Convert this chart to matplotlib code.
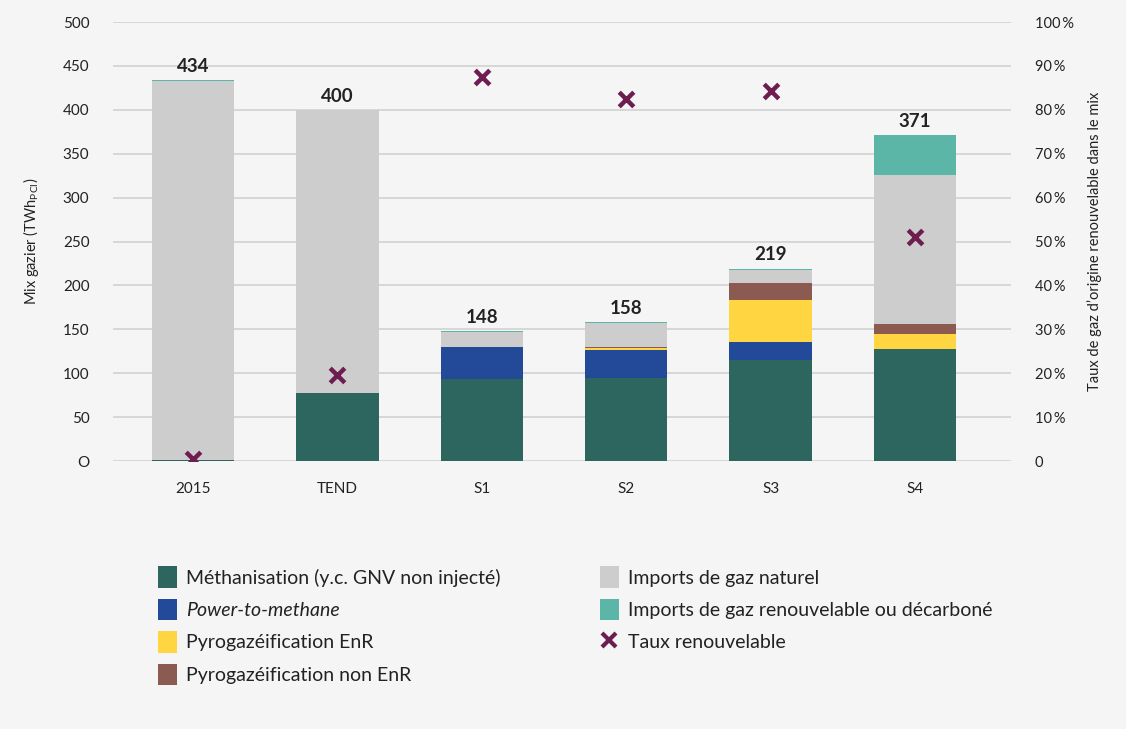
"""Mix gazier par scénario : barres empilées + taux renouvelable."""

import matplotlib
matplotlib.use("Agg")
import matplotlib.pyplot as plt
import numpy as np
from matplotlib.patches import Patch
from matplotlib.lines import Line2D

categories = ["2015", "TEND", "S1", "S2", "S3", "S4"]
methanisation = [1, 77, 93, 95, 115, 128]
power_to_methane = [0, 0, 37, 32, 21, 0]
pyro_enr = [0, 0, 0, 2, 47, 17]
pyro_non_enr = [0, 0, 0, 1, 20, 11]
imports_naturel = [432, 323, 17, 27, 15, 170]
imports_renouv = [1, 0, 1, 1, 1, 45]
totaux = [434, 400, 148, 158, 219, 371]
taux_renouvelable = [0.5, 19.5, 87.5, 82.5, 84.2, 51.0]

series = [
    ("Méthanisation (y.c. GNV non injecté)", methanisation, "#2d665f"),
    ("Power-to-methane", power_to_methane, "#234a98"),
    ("Pyrogazéification EnR", pyro_enr, "#ffd542"),
    ("Pyrogazéification non EnR", pyro_non_enr, "#8b5a51"),
    ("Imports de gaz naturel", imports_naturel, "#cdcdcd"),
    ("Imports de gaz renouvelable ou décarboné", imports_renouv, "#5bb6a7"),
]
marker_color = "#6d1d4f"
bg = "#f5f5f5"
text_color = "#222222"

plt.rcParams["font.family"] = ["Lato", "DejaVu Sans"]

fig = plt.figure(figsize=(11.26, 7.29), dpi=100)
fig.set_facecolor(bg)
ax = fig.add_axes([0.1004, 0.3676, 0.7975, 0.6022])
ax.set_facecolor(bg)

x = np.arange(len(categories))
bottom = np.zeros(len(categories))
for label, values, color in series:
    ax.bar(x, values, 0.57, bottom=bottom, color=color, linewidth=0, zorder=2)
    bottom += np.array(values)

for xi, tot in zip(x, totaux):
    ax.text(xi, tot + 6, str(tot), ha="center", va="bottom", fontsize=13.5,
            fontweight="bold", color=text_color, zorder=4)

ax.set_xlim(-0.554, 5.665)
ax.set_ylim(0, 500)
ax.set_yticks(range(0, 501, 50))
ax.set_yticklabels(["O"] + [str(v) for v in range(50, 501, 50)])
ax.set_xticks(x)
ax.set_xticklabels(categories)
ax.grid(axis="y", color="#d4d4d4", linewidth=1.3, zorder=0)
ax.set_axisbelow(True)
for s in ax.spines.values():
    s.set_visible(False)
ax.tick_params(axis="y", length=0, pad=17, labelsize=11, labelcolor=text_color)
ax.tick_params(axis="x", length=0, pad=15, labelsize=11, labelcolor=text_color)
ax.set_ylabel("Mix gazier (TWh$_{\\mathregular{PCI}}$)", fontsize=10.5,
              color=text_color, labelpad=16)

ax2 = ax.twinx()
ax2.set_ylim(0, 100)
ax2.set_yticks(range(0, 101, 10))
ax2.set_yticklabels(["0"] + [f"{v}\u2009%" for v in range(10, 101, 10)])
for s in ax2.spines.values():
    s.set_visible(False)
ax2.tick_params(axis="y", length=0, pad=17, labelsize=10.5, labelcolor=text_color)
ax2.set_ylabel("Taux de gaz d\u2019origine renouvelable dans le mix", fontsize=10.5,
               color=text_color, labelpad=10)
ax2.scatter(x, taux_renouvelable, marker="x", s=110, linewidths=3.2,
            color=marker_color, zorder=5)

handles = [Patch(facecolor=c, edgecolor="none") for _, _, c in series]
labels = [lab for lab, _, _ in series]
handles.append(Line2D([], [], marker="x", linestyle="none", color=marker_color,
                      markersize=10, markeredgewidth=3))
labels.append("Taux renouvelable")
leg = fig.legend(handles, labels, loc="upper left", bbox_to_anchor=(0.125, 0.247),
                 ncol=2, frameon=False, fontsize=14, handlelength=0.95,
                 handleheight=1.3, handletextpad=0.5, columnspacing=5.1,
                 labelspacing=0.58, labelcolor=text_color)
leg.get_texts()[1].set_fontstyle("italic")

fig.savefig("out.png", dpi=100, facecolor=bg)
